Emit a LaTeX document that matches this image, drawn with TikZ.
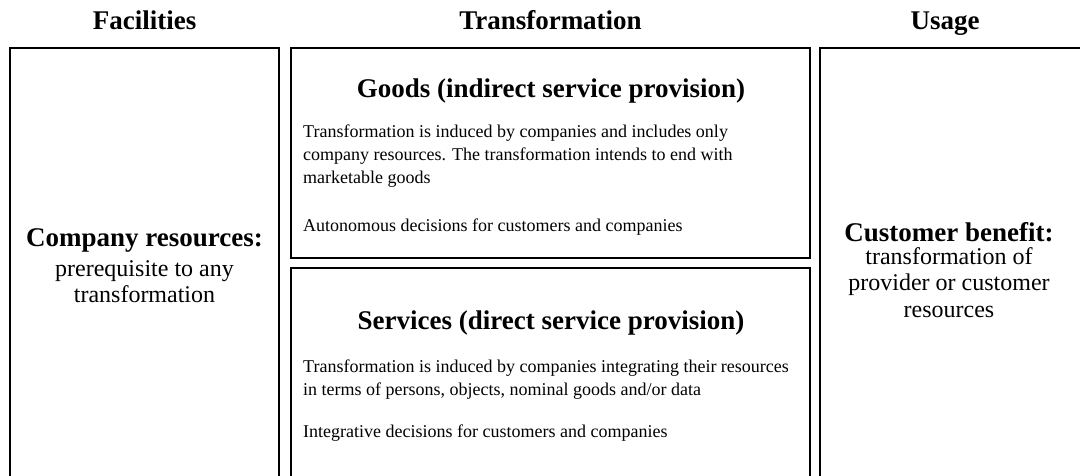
\documentclass[tikz,border=0pt]{standalone}
\usepackage{fontspec}
\setmainfont{Liberation Serif}
\begin{document}
\begin{tikzpicture}[x=1pt,y=-1pt,
  box/.style={draw=black,line width=1.6pt,anchor=north west,inner sep=0pt,outer sep=0pt},
  head/.style={font=\fontsize{27}{31}\selectfont\bfseries,anchor=base,inner sep=0pt},
  ttl/.style={font=\fontsize{27}{31}\selectfont\bfseries,anchor=base,inner sep=0pt},
  sub/.style={font=\fontsize{24}{27}\selectfont,anchor=base,inner sep=0pt},
  para/.style={font=\fontsize{18}{23}\selectfont,align=left,anchor=base west,inner sep=0pt}]
\useasboundingbox (0,0) rectangle (1080,475);
\clip (0,0) rectangle (1080,475);
\fill[white] (0,0) rectangle (1080,475);
% boxes
\node[box,minimum width=269pt,minimum height=450pt] (fac) at (10,48) {};
\node[box,minimum width=519pt,minimum height=210pt] (goods) at (291,48) {};
\node[box,minimum width=519pt,minimum height=230pt] (serv) at (291,268) {};
\node[box,minimum width=265pt,minimum height=450pt] (use) at (820,48) {};
% headers
\node[head] (hfac) at (144.5,29) {Facilities};
\node[head] (htra) at (550.5,29) {Transformation};
\node[head] (huse) at (945,29) {Usage};
% facilities
\node[ttl] (cr) at (144.5,246) {Company resources:};
\node[sub] (cr1) at (144.5,276) {prerequisite to any};
\node[sub] (cr2) at (144.5,302) {transformation};
% goods
\node[ttl] (gt) at (551,97) {Goods (indirect service provision)};
\node[para] (gp1) at (303,183) {Transformation is induced by companies and includes only\\company resources. The transformation intends to end with\\marketable goods};
\node[para] (gp2) at (303,231) {Autonomous decisions for customers and companies};
% services
\node[ttl] (st) at (551,329) {Services (direct service provision)};
\node[para] (sp1) at (303,395) {Transformation is induced by companies integrating their resources\\in terms of persons, objects, nominal goods and/or data};
\node[para] (sp2) at (303,437) {Integrative decisions for customers and companies};
% usage
\node[ttl] (cb) at (949,241) {Customer benefit:};
\node[sub] (cb1) at (949,264) {transformation of};
\node[sub] (cb2) at (949,290) {provider or customer};
\node[sub] (cb3) at (949,317) {resources};
\end{tikzpicture}
\end{document}
